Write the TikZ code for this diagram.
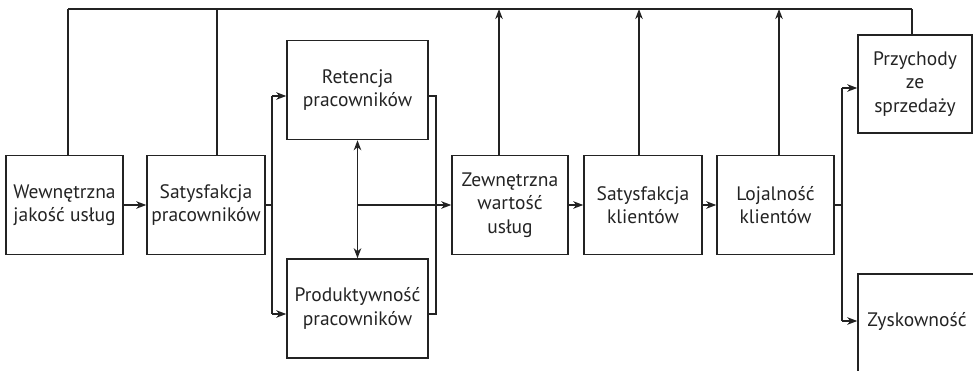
\documentclass[tikz,border=0pt]{standalone}
\usepackage{fontspec}
\setmainfont{PT Sans}
\usetikzlibrary{arrows.meta}
\definecolor{ink}{RGB}{35,35,35}
\begin{document}
\begin{tikzpicture}[x=1pt,y=-1pt,
  every node/.style={font=\fontsize{19.5}{23.5}\selectfont, text=ink},
  box/.style={draw=ink, line width=1.5pt, align=center, inner sep=0pt,
    minimum width=#1, minimum height=99},
  box/.default=117,
  link/.style={draw=ink, line width=1.5pt},
  tip/.tip={Stealth[length=10pt,width=7.5pt,inset=3pt]},
  arr/.style={link, -tip},
  dbl/.style={link, tip-tip}]
\useasboundingbox (0,0) rectangle (973,371);
\clip (0,0) rectangle (973,371);

% boxes
\node[box=117] (b1)   at (64.5,205) {Wewnętrzna\\jakość usług};
\node[box=118] (b2)   at (206,205)  {Satysfakcja\\pracowników};
\node[box=141] (ret)  at (357.5,90) {Retencja\\pracowników};
\node[box=141] (prod) at (357.5,308.5) {Produktywność\\pracowników};
\node[box=116] (zew)  at (510,205)  {Zewnętrzna\\wartość\\usług};
\node[box=118] (sk)   at (643,205)  {Satysfakcja\\klientów};
\node[box=117] (loj)  at (775.5,205) {Lojalność\\klientów};
\node[box=114, minimum height=98] (prz) at (915,84) {Przychody\\ze\\sprzedaży};
\node[box=118, minimum height=100] (zys) at (917,324) {};
\node at (917,321) {Zyskowność};

% junction points
\coordinate (top1) at (68,9);
\coordinate (top2) at (217,9);
\coordinate (top3) at (499,9);
\coordinate (top4) at (639,9);
\coordinate (top5) at (779,9);
\coordinate (top6) at (912,9);
\coordinate (fa)  at (272,205);
\coordinate (fa1) at (272,96);
\coordinate (fa2) at (272,314);
\coordinate (br1) at (436,96);
\coordinate (br2) at (436,314);
\coordinate (mid) at (357.5,205);
\coordinate (fb)  at (842,205);
\coordinate (fb1) at (842,88);
\coordinate (fb2) at (842,321);

% feedback line along the top
\draw[link] (top1) -- (top6);
\draw[link] (b1.north -| top1) -- (top1);
\draw[link] (b2.north -| top2) -- (top2);
\draw[arr] (zew.north -| top3) -- (top3);
\draw[arr] (sk.north -| top4) -- (top4);
\draw[arr] (loj.north -| top5) -- (top5);
\draw[link] (prz.north -| top6) -- (top6);

% main chain
\draw[arr] (b1) -- (b2);
\draw[link] (b2.east) -- (fa);
\draw[link] (fa1) -- (fa2);
\draw[arr] (fa1) -- (ret.west |- fa1);
\draw[arr] (fa2) -- (prod.west |- fa2);
\draw[link] (ret.east |- br1) -- (br1) -- (br2) -- (prod.east |- br2);
\draw[dbl] (ret.south) -- (prod.north);
\draw[arr] (mid) -- (zew.west);
\draw[arr] (zew) -- (sk);
\draw[arr] (sk) -- (loj);
\draw[link] (loj.east) -- (fb);
\draw[link] (fb1) -- (fb2);
\draw[arr] (fb1) -- (prz.west |- fb1);
\draw[arr] (fb2) -- (zys.west |- fb2);
\end{tikzpicture}
\end{document}
